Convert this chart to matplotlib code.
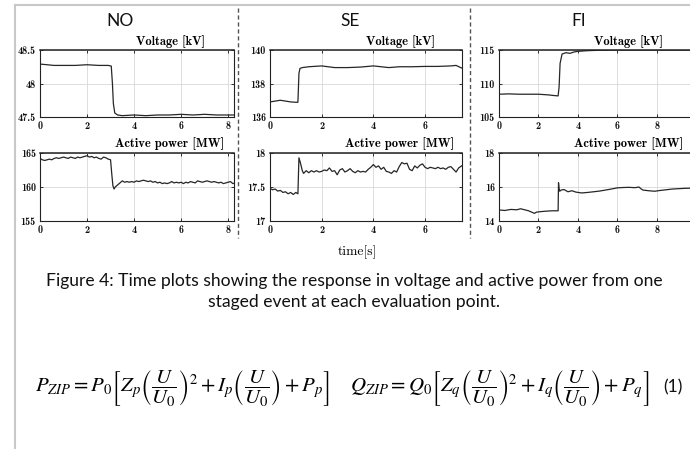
import matplotlib
matplotlib.use("Agg")
import matplotlib.pyplot as plt
from matplotlib.lines import Line2D

W, H = 690, 449

# --- data ------------------------------------------------------------------
# NO
no_v_t = [0, 0.3, 0.6, 1.0, 1.5, 2.0, 2.5, 2.9, 3.03, 3.08, 3.12, 3.18, 3.3, 3.5,
          4.0, 4.5, 5.0, 5.5, 6.0, 6.5, 7.0, 7.5, 8.0, 8.3]
no_v = [48.29, 48.28, 48.27, 48.27, 48.27, 48.28, 48.27, 48.27, 48.26, 48.0, 47.7,
        47.56, 47.53, 47.52, 47.53, 47.52, 47.53, 47.53, 47.54, 47.53, 47.54, 47.53,
        47.53, 47.53]
no_p_t = [0, 0.1, 0.2, 0.3, 0.4, 0.5, 0.6, 0.7, 0.8, 0.9, 1.0, 1.1, 1.2, 1.3, 1.4,
          1.5, 1.6, 1.7, 1.8, 1.9, 2.0, 2.1, 2.2, 2.3, 2.4, 2.5, 2.6, 2.7, 2.8, 2.9,
          3.0, 3.05, 3.1, 3.15, 3.2, 3.3, 3.4, 3.5, 3.6, 3.7, 3.8, 3.9, 4.0, 4.1,
          4.2, 4.3, 4.4, 4.5, 4.6, 4.7, 4.8, 4.9, 5.0, 5.1, 5.2, 5.3, 5.4, 5.5, 5.6,
          5.7, 5.8, 5.9, 6.0, 6.1, 6.2, 6.3, 6.4, 6.5, 6.6, 6.7, 6.8, 6.9, 7.0, 7.1,
          7.2, 7.3, 7.4, 7.5, 7.6, 7.7, 7.8, 7.9, 8.0, 8.1, 8.2, 8.3]
no_p = [164.2, 164.0, 163.9, 164.0, 164.1, 164.0, 164.2, 164.3, 164.2, 164.3,
        164.4, 164.3, 164.2, 164.4, 164.3, 164.2, 164.4, 164.3, 164.4, 164.5,
        164.6, 164.4, 164.5, 164.3, 164.4, 164.2, 164.1, 164.4, 164.3, 164.1,
        164.0, 162.0, 160.2, 159.7, 160.0, 160.3, 160.6, 160.9, 160.7, 160.8,
        160.7, 160.8, 160.7, 160.9, 160.8, 160.9, 161.0, 160.9, 160.8, 160.9,
        160.7, 160.8, 160.6, 160.7, 160.5, 160.6, 160.5, 160.6, 160.8, 160.6,
        160.7, 160.6, 160.7, 160.5, 160.7, 160.6, 160.8, 160.7, 160.6, 160.9,
        160.8, 160.7, 160.8, 160.9, 160.8, 160.7, 160.8, 160.7, 160.6, 160.7,
        160.5, 160.6, 160.7, 160.8, 160.5, 160.6]

# SE
se_v_t = [0, 0.2, 0.4, 0.6, 0.8, 1.0, 1.08, 1.12, 1.16, 1.25, 1.5, 2.0, 2.5, 3.0,
          3.5, 4.0, 4.3, 4.6, 5.0, 5.5, 6.0, 6.5, 7.0, 7.2, 7.45]
se_v = [136.9, 136.95, 137.0, 136.95, 136.9, 136.88, 136.88, 138.6, 138.9, 138.95,
        139.0, 139.05, 138.95, 138.95, 138.98, 139.05, 139.0, 138.95, 139.0, 139.0,
        139.02, 139.02, 139.05, 139.08, 138.9]
se_p_t = [0, 0.1, 0.2, 0.3, 0.4, 0.5, 0.6, 0.7, 0.8, 0.9, 1.0, 1.08, 1.12, 1.18,
          1.25, 1.3, 1.4, 1.5, 1.6, 1.7, 1.8, 1.9, 2.0, 2.1, 2.2, 2.3, 2.4, 2.5,
          2.6, 2.7, 2.8, 2.9, 3.0, 3.1, 3.2, 3.3, 3.4, 3.5, 3.6, 3.7, 3.8, 3.9, 4.0,
          4.1, 4.2, 4.3, 4.4, 4.5, 4.6, 4.7, 4.8, 4.9, 5.0, 5.1, 5.2, 5.3, 5.4, 5.5,
          5.6, 5.7, 5.8, 5.9, 6.0, 6.1, 6.2, 6.3, 6.4, 6.5, 6.6, 6.7, 6.8, 6.9, 7.0,
          7.1, 7.2, 7.3, 7.45]
se_p = [17.48, 17.46, 17.47, 17.44, 17.45, 17.42, 17.43, 17.40, 17.42, 17.39,
        17.42, 17.40, 17.93, 17.85, 17.74, 17.70, 17.74, 17.71, 17.74, 17.72,
        17.74, 17.72, 17.73, 17.75, 17.74, 17.78, 17.73, 17.74, 17.68, 17.75,
        17.77, 17.72, 17.74, 17.77, 17.73, 17.71, 17.74, 17.72, 17.73, 17.72,
        17.76, 17.79, 17.83, 17.79, 17.81, 17.76, 17.79, 17.73, 17.72, 17.70,
        17.74, 17.72, 17.80, 17.86, 17.84, 17.85, 17.76, 17.74, 17.81, 17.78,
        17.82, 17.84, 17.79, 17.77, 17.79, 17.78, 17.77, 17.79, 17.77, 17.78,
        17.76, 17.79, 17.80, 17.76, 17.72, 17.78, 17.82]

# FI
fi_v_t = [0, 0.5, 1.0, 1.5, 2.0, 2.5, 2.8, 3.0, 3.05, 3.1, 3.2, 3.4, 3.6, 3.8, 4.0,
          4.5, 5.0, 6.0, 7.0, 8.0, 9.0, 10.3]
fi_v = [108.4, 108.45, 108.4, 108.4, 108.4, 108.3, 108.2, 108.15, 109.5, 113.0,
        114.4, 114.6, 114.5, 114.7, 114.8, 114.9, 114.95, 115.0, 115.0, 115.0,
        115.0, 115.0]
fi_p_t = [0, 0.3, 0.6, 0.9, 1.1, 1.3, 1.5, 1.7, 1.8, 1.9, 2.1, 2.4, 2.7, 3.0, 3.02,
          3.05, 3.08, 3.15, 3.3, 3.5, 3.7, 3.9, 4.2, 4.5, 4.8, 5.1, 5.4, 5.7, 6.0,
          6.3, 6.6, 6.9, 7.1, 7.2, 7.3, 7.6, 7.9, 8.2, 8.5, 8.8, 9.1, 9.4, 9.7,
          10.0, 10.3]
fi_p = [14.65, 14.62, 14.68, 14.66, 14.72, 14.66, 14.60, 14.50, 14.45, 14.52,
        14.55, 14.58, 14.60, 14.60, 16.25, 15.9, 15.75, 15.82, 15.85, 15.72, 15.78,
        15.70, 15.65, 15.68, 15.72, 15.76, 15.82, 15.88, 15.95, 15.97, 15.98, 15.96,
        16.0, 15.9, 15.82, 15.78, 15.75, 15.80, 15.84, 15.88, 15.90, 15.92, 15.93,
        15.95, 15.94]

panel_names = ["NO", "SE", "FI"]
volt_ticks = [[47.5, 48, 48.5], [136, 138, 140], [105, 110, 115]]
power_ticks = [[155, 160, 165], [17, 17.5, 18], [14, 16, 18]]
x_ticks = [[0, 2, 4, 6, 8], [0, 2, 4, 6], [0, 2, 4, 6, 8]]
x_max = [8.25, 7.43, 10.2]
volt_data = [(no_v_t, no_v), (se_v_t, se_v), (fi_v_t, fi_v)]
power_data = [(no_p_t, no_p), (se_p_t, se_p), (fi_p_t, fi_p)]

# --- layout helpers (pixel positions of the reference) ----------------------
def fx(x):
    return x / W

def fy(y):
    return 1 - y / H

def tick_label(v):
    return "%g" % v

fig = plt.figure(figsize=(W / 100, H / 100), dpi=100)
fig.patch.set_facecolor("white")

ax_left = [40, 270, 499]
ax_width = [194, 192, 201]
rows = [(50, 117), (153, 221)]

line_col = "#262626"
for i, name in enumerate(panel_names):
    for r, (top, bot) in enumerate(rows):
        ax = fig.add_axes([fx(ax_left[i]), fy(bot), fx(ax_width[i]), (bot - top) / H])
        t, v = (volt_data if r == 0 else power_data)[i]
        ax.plot(t, v, color=line_col, lw=0.9)
        yt = volt_ticks[i] if r == 0 else power_ticks[i]
        ax.set_ylim(yt[0], yt[-1])
        ax.set_xlim(0, x_max[i])
        ax.set_yticks(yt)
        ax.set_yticklabels([tick_label(y) for y in yt], fontfamily="cmb10", fontsize=7.3)
        ax.set_xticks(x_ticks[i])
        ax.set_xticklabels([tick_label(x) for x in x_ticks[i]], fontfamily="cmb10", fontsize=7.3)
        ax.tick_params(direction="in", length=2.5, width=0.6, top=True, right=True,
                       pad=3, colors="#111111")
        ax.grid(True, color="#d8d8d8", lw=0.6)
        ax.set_axisbelow(True)
        for s in ax.spines.values():
            s.set_linewidth(0.8)
            s.set_color("#222222")
        ax.spines["top"].set_linewidth(1.1)

    # panel heading and axes titles
    fig.text(fx(ax_left[i] + 80), fy(21), name, family="Lato", fontsize=12.5,
             ha="center", va="center", color="#111111")
    fig.text(fx(ax_left[i] + 130), fy(42), "Voltage [kV]", family="cmb10",
             fontsize=9, ha="center", va="center")
    fig.text(fx(ax_left[i] + 130), fy(144), "Active power [MW]", family="cmb10",
             fontsize=9, ha="center", va="center")

fig.text(fx(357), fy(252), "time[s]", family="cmr10", fontsize=9.8, ha="center", va="center")

# dashed separators between the three panels
for xs in [238, 470]:
    fig.add_artist(Line2D([fx(xs), fx(xs)], [fy(8), fy(238)], transform=fig.transFigure,
                          color="#555555", lw=1.0, ls=(0, (3, 2))))

# page margin lines
fig.add_artist(Line2D([fx(15), fx(15)], [fy(5), fy(449)], transform=fig.transFigure,
                      color="#c8c8c8", lw=1.5))
fig.add_artist(Line2D([fx(15), fx(690)], [fy(5), fy(5)], transform=fig.transFigure,
                      color="#c8c8c8", lw=1.5))

# caption
fig.text(fx(354), fy(281), "Figure 4: Time plots showing the response in voltage and "
         "active power from one", family="Lato", fontsize=12.6, ha="center",
         va="center", color="#111111")
fig.text(fx(354), fy(302), "staged event at each evaluation point.", family="Lato",
         fontsize=12.6, ha="center", va="center", color="#111111")

# equation (1)
plt.rcParams["mathtext.fontset"] = "stix"
eq_p = (r"$P_{ZIP} = P_0\left[Z_p\left(\dfrac{U}{U_0}\right)^2 + "
        r"I_p\left(\dfrac{U}{U_0}\right) + P_p\right]$")
eq_q = (r"$Q_{ZIP} = Q_0\left[Z_q\left(\dfrac{U}{U_0}\right)^2 + "
        r"I_q\left(\dfrac{U}{U_0}\right) + P_q\right]$")
fig.text(fx(35), fy(388), eq_p, fontsize=15, ha="left", va="center")
fig.text(fx(350), fy(388), eq_q, fontsize=15, ha="left", va="center")
fig.text(fx(673), fy(387), "(1)", family="Lato", fontsize=12.6, ha="center",
         va="center", color="#111111")

fig.savefig("out.png", dpi=100, facecolor="white")
